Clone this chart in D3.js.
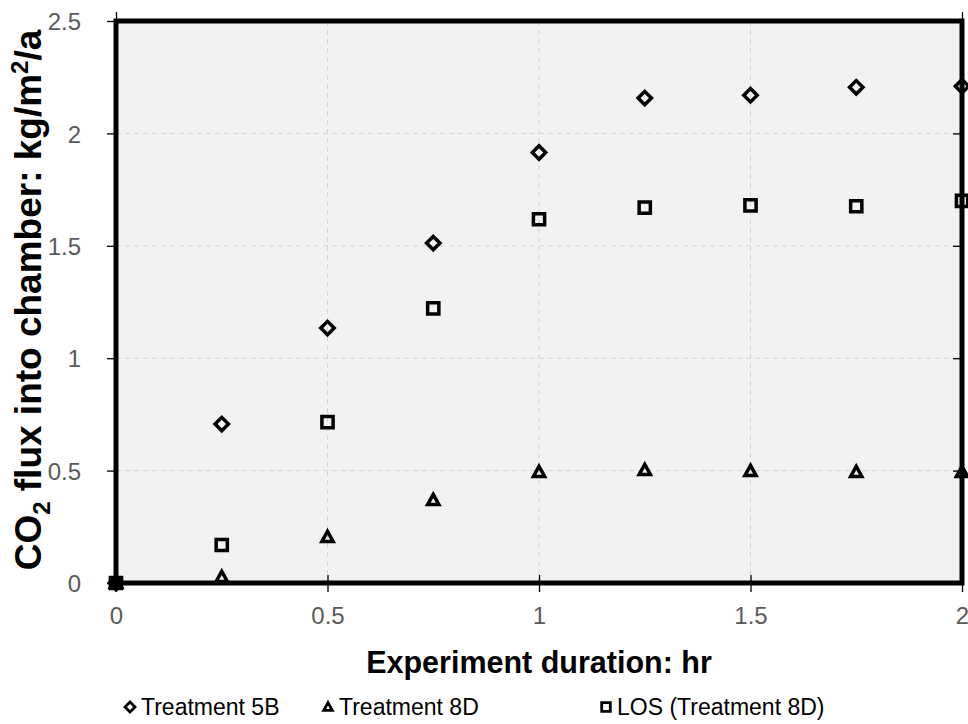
<!DOCTYPE html>
<html><head><meta charset="utf-8">
<script src="https://cdn.jsdelivr.net/npm/d3@7"></script>
<style>body{margin:0;background:#fff;} svg{display:block;font-family:"Liberation Sans",Arial,sans-serif;}</style>
</head><body>
<svg id="c" width="968" height="724"></svg>
<script>
const xValues = [0, 0.25, 0.5, 0.75, 1.0, 1.25, 1.5, 1.75, 2.0];
const treatment5B = [0, 0.707, 1.134, 1.512, 1.915, 2.157, 2.17, 2.205, 2.21];
const treatment8D = [0, 0.027, 0.205, 0.369, 0.494, 0.503, 0.498, 0.494, 0.494];
const los8D = [0, 0.169, 0.716, 1.222, 1.618, 1.67, 1.68, 1.676, 1.70];
const xTicks = [0, 0.5, 1, 1.5, 2];
const yTicks = [0, 0.5, 1, 1.5, 2, 2.5];
const seriesNames = ["Treatment 5B", "Treatment 8D", "LOS (Treatment 8D)"];

const svg = d3.select("#c");
const L = 116, R = 962, T = 21, B = 583;
const x = d3.scaleLinear().domain([0, 2]).range([L, R]);
const y = d3.scaleLinear().domain([0, 2.5]).range([B, T]);

svg.append("rect").attr("x", L).attr("y", T).attr("width", R - L).attr("height", B - T).attr("fill", "#f2f2f2");

// gridlines
const g = svg.append("g");
g.selectAll(".hg").data(yTicks.filter(d => d > 0 && d < 2.5)).join("line")
  .attr("x1", L).attr("x2", R).attr("y1", d => y(d)).attr("y2", d => y(d))
  .attr("stroke", "#d4d4d4").attr("stroke-width", 1).attr("stroke-dasharray", "5,4");
g.selectAll(".vg").data(xTicks.filter(d => d > 0 && d < 2)).join("line")
  .attr("y1", T).attr("y2", B).attr("x1", d => x(d)).attr("x2", d => x(d))
  .attr("stroke", "#d4d4d4").attr("stroke-width", 1).attr("stroke-dasharray", "5,4");

// axes
const axL = svg.append("g").attr("transform", `translate(${L},0)`)
  .call(d3.axisLeft(y).tickValues(yTicks).tickFormat(d3.format("~g")).tickSize(9).tickPadding(26));
const axB = svg.append("g").attr("transform", `translate(0,${B})`)
  .call(d3.axisBottom(x).tickValues(xTicks).tickFormat(d3.format("~g")).tickSize(9).tickPadding(15));
[axL, axB].forEach(a => {
  a.select(".domain").remove();
  a.selectAll(".tick line").attr("stroke", "#000").attr("stroke-width", 1.3);
  a.selectAll(".tick text").attr("fill", "#5a5a5a").attr("font-size", 24).attr("font-family", "Liberation Sans, Arial, sans-serif");
});
axL.selectAll(".tick text").attr("dy", "0.36em");
axB.selectAll(".tick line").attr("y1", -8);
// right ticks pointing inward & top ticks
const axR = svg.append("g").attr("transform", `translate(${R},0)`)
  .call(d3.axisLeft(y).tickValues(yTicks).tickFormat("").tickSize(9));
axR.select(".domain").remove();
axR.selectAll(".tick line").attr("stroke", "#000").attr("stroke-width", 1.3);
const axT = svg.append("g").attr("transform", `translate(0,${T})`)
  .call(d3.axisTop(x).tickValues([0, 2]).tickFormat("").tickSize(9));
axT.select(".domain").remove();
axT.selectAll(".tick line").attr("stroke", "#000").attr("stroke-width", 1.3);

// frame
svg.append("rect").attr("x", L).attr("y", T).attr("width", R - L).attr("height", B - T)
  .attr("fill", "none").attr("stroke", "#000").attr("stroke-width", 5);

// markers
const diamond = (cx, cy, s) => `M${cx},${cy - s}L${cx + s},${cy}L${cx},${cy + s}L${cx - s},${cy}Z`;
const triangle = (cx, cy, s) => `M${cx},${cy - s}L${cx + s},${cy + s * 0.8}L${cx - s},${cy + s * 0.8}Z`;
const square = (cx, cy, s) => `M${cx - s},${cy - s}H${cx + s}V${cy + s}H${cx - s}Z`;
const shapes = [diamond, triangle, square];
const sizes = [6.7, 5.6, 5.6];
const allSeries = [treatment5B, treatment8D, los8D];
allSeries.forEach((vals, i) => {
  svg.append("g").selectAll("path").data(vals.map((v, j) => [xValues[j], v])).join("path")
    .attr("d", d => shapes[i](x(d[0]), y(d[1]), sizes[i]))
    .attr("fill", d => d[0] === 0 ? "#000" : "none")
    .attr("stroke", "#000").attr("stroke-width", 3.5).attr("stroke-linejoin", "miter");
});

// titles
svg.append("text").attr("x", 539).attr("y", 673).attr("text-anchor", "middle")
  .attr("font-size", 30.5).attr("font-weight", "bold").text("Experiment duration: hr");
const yt = svg.append("text").attr("transform", `translate(41,300) rotate(-90)`)
  .attr("text-anchor", "middle").attr("font-size", 37).attr("font-weight", "bold");
yt.append("tspan").text("CO");
yt.append("tspan").attr("font-size", 24).attr("dy", 9).text("2");
yt.append("tspan").attr("dy", -9).text(" flux into chamber: kg/m");
yt.append("tspan").attr("font-size", 24).attr("dy", -13).text("2");
yt.append("tspan").attr("dy", 13).text("/a");

// legend
const legX = [130, 328, 606];
seriesNames.forEach((n, i) => {
  svg.append("path").attr("d", shapes[i](legX[i], 707, i === 0 ? 5 : 4.3))
    .attr("fill", "none").attr("stroke", "#000").attr("stroke-width", 2.8);
  svg.append("text").attr("x", legX[i] + 11).attr("y", 715).attr("font-size", 23).text(n);
});
</script>
</body></html>
